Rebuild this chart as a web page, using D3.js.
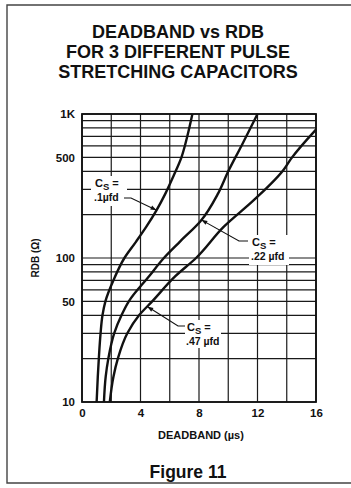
<!DOCTYPE html>
<html>
<head>
<meta charset="utf-8">
<script src="https://cdn.jsdelivr.net/npm/d3@7"></script>
<style>
  html, body { margin: 0; padding: 0; background: #fff; }
  svg { display: block; font-family: "Liberation Sans", Arial, Helvetica, sans-serif; }
</style>
</head>
<body>
<svg id="chart" width="351" height="488"></svg>
<script>
// ---------- DATA ----------
const titleLines = ["DEADBAND vs RDB", "FOR 3 DIFFERENT PULSE", "STRETCHING CAPACITORS"];
const xTicks = [0, 4, 8, 12, 16];
const xGrid = [0, 2, 4, 6, 8, 10, 12, 14, 16];
const yTickValues = [10, 50, 100, 500, 1000];
const yTickLabels = ["10", "50", "100", "500", "1K"];
const yGrid = [10, 20, 30, 40, 50, 60, 70, 80, 90, 100, 200, 300, 400, 500, 600, 700, 800, 900, 1000];
const xLabel = "DEADBAND (\u00B5s)";
const yLabel = "RDB (\u03A9)";
const figureLabel = "Figure 11";

// Cs = .1 µfd
const rdb01 = [10, 15, 20, 30, 40, 50, 70, 100, 130, 165, 215, 280, 370, 500, 700, 1000];
const db01  = [1.0, 1.08, 1.15, 1.27, 1.4, 1.6, 2.15, 2.9, 3.7, 4.4, 5.1, 5.7, 6.25, 6.8, 7.2, 7.55];
// Cs = .22 µfd
const rdb022 = [10, 15, 20, 30, 40, 50, 75, 100, 130, 180, 280, 400, 600, 1000];
const db022  = [1.5, 1.62, 1.8, 2.2, 2.7, 3.2, 4.6, 5.6, 6.7, 8.1, 9.3, 10.0, 10.9, 12.0];
// Cs = .47 µfd
const rdb047 = [10, 15, 20, 30, 40, 50, 75, 100, 165, 255, 412, 490, 780];
const db047  = [1.9, 2.15, 2.45, 3.1, 3.9, 4.8, 6.4, 7.8, 9.7, 11.8, 13.8, 14.3, 16.0];

const seriesNames = [".1\u00B5fd", ".22 \u00B5fd", ".47 \u00B5fd"];
// arrow tip location on each curve (data space)
const arrowR = [215, 184, 46];

// ---------- DRAW ----------
const svg = d3.select("#chart");
const x = d3.scaleLinear().domain([0, 16]).range([82, 316]);
const y = d3.scaleLog().domain([10, 1000]).range([402, 114]);

// outer frame (left, top, bottom)
svg.append("path")
  .attr("d", "M352,5 H7 V483 H352")
  .attr("fill", "none").attr("stroke", "#444").attr("stroke-width", 1.4);

// title
svg.append("g").selectAll("text").data(titleLines).join("text")
  .attr("x", 178).attr("y", (d, i) => 38 + i * 20)
  .attr("text-anchor", "middle")
  .attr("font-size", 18).attr("font-weight", "bold").attr("fill", "#111")
  .text(d => d);

// grid
const grid = svg.append("g").attr("stroke", "#1a1a1a").attr("stroke-width", 1.2);
grid.selectAll("line.h").data(yGrid).join("line").attr("class", "h")
  .attr("x1", x(0)).attr("x2", x(16))
  .attr("y1", d => y(d)).attr("y2", d => y(d));
grid.selectAll("line.v").data(xGrid).join("line").attr("class", "v")
  .attr("x1", d => x(d)).attr("x2", d => x(d))
  .attr("y1", y(10)).attr("y2", y(1000));
svg.append("rect")
  .attr("x", x(0)).attr("y", y(1000))
  .attr("width", x(16) - x(0)).attr("height", y(10) - y(1000))
  .attr("fill", "none").attr("stroke", "#111").attr("stroke-width", 1.8);

// axes via d3 axis generators (lines hidden, labels styled)
const yAxis = d3.axisLeft(y).tickValues(yTickValues)
  .tickFormat((d, i) => yTickLabels[i]).tickSize(0).tickPadding(7);
const gy = svg.append("g").attr("transform", `translate(${x(0)},0)`).call(yAxis);
gy.select(".domain").remove();
gy.selectAll("text").attr("font-size", 11.5).attr("font-weight", "bold")
  .attr("fill", "#111").attr("font-family", "Liberation Sans, Arial, sans-serif");

const xAxis = d3.axisBottom(x).tickValues(xTicks).tickSize(0).tickPadding(7);
const gx = svg.append("g").attr("transform", `translate(0,${y(10)})`).call(xAxis);
gx.select(".domain").remove();
gx.selectAll("text").attr("font-size", 11.5).attr("font-weight", "bold")
  .attr("fill", "#111").attr("font-family", "Liberation Sans, Arial, sans-serif");

// axis titles
svg.append("text").attr("x", 201).attr("y", 439).attr("text-anchor", "middle")
  .attr("font-size", 11).attr("font-weight", "bold").attr("fill", "#111").text(xLabel);
svg.append("text").attr("transform", `translate(39,${(y(10) + y(1000)) / 2}) rotate(-90)`)
  .attr("text-anchor", "middle")
  .attr("font-size", 10).attr("font-weight", "bold").attr("fill", "#111").text(yLabel);
svg.append("text").attr("x", 188).attr("y", 478).attr("text-anchor", "middle")
  .attr("font-size", 17.5).attr("font-weight", "bold").attr("fill", "#111").text(figureLabel);

// annotation label boxes (white) drawn before curves? curves pass nearby; draw boxes first
const series = [
  { r: rdb01, d: db01 },
  { r: rdb022, d: db022 },
  { r: rdb047, d: db047 }
];

function interpD(s, R) {
  for (let i = 0; i < s.r.length - 1; i++) {
    if (R >= s.r[i] && R <= s.r[i + 1]) {
      const t = (Math.log(R) - Math.log(s.r[i])) / (Math.log(s.r[i + 1]) - Math.log(s.r[i]));
      return s.d[i] + t * (s.d[i + 1] - s.d[i]);
    }
  }
  return s.d[s.d.length - 1];
}

// label layout: [textX, line1 baseline, elbow dx side]
const labelLayout = [
  { tx: 95, ty: 187, path: (tipX, tipY) => `M124,198 H131 L${tipX},${tipY}` , bx: 91, by: 176, bw: 36, bh: 30 },
  { tx: 252, ty: 246, path: (tipX, tipY) => `M248,241 H239 L${tipX},${tipY}`, bx: 249, by: 235, bw: 40, bh: 30 },
  { tx: 187, ty: 331, path: (tipX, tipY) => `M185,326 H178 L${tipX},${tipY}`, bx: 185, by: 320, bw: 36, bh: 28 }
];

const ann = svg.append("g");
labelLayout.forEach((L, i) => {
  ann.append("rect").attr("x", L.bx).attr("y", L.by).attr("width", L.bw).attr("height", L.bh)
    .attr("fill", "#fff");
});

// curves
const line = d3.line().curve(d3.curveMonotoneY);
svg.append("g").selectAll("path").data(series).join("path")
  .attr("d", s => line(s.r.map((R, i) => [x(s.d[i]), y(R)])))
  .attr("fill", "none").attr("stroke", "#111").attr("stroke-width", 2.4)
  .attr("stroke-linejoin", "round");

// annotations
labelLayout.forEach((L, i) => {
  const s = series[i];
  const tipX = x(interpD(s, arrowR[i]));
  const tipY = y(arrowR[i]);
  const p = L.path(tipX, tipY);
  ann.append("path").attr("d", p).attr("fill", "none").attr("stroke", "#111").attr("stroke-width", 1.1);
  // arrowhead
  const pts = p.match(/-?\d+(\.\d+)?/g).map(Number);
  // elbow point = second-last point
  const ex = (i === 0) ? 131 : (i === 1 ? 239 : 178);
  const ey = (i === 0) ? 198 : (i === 1 ? 241 : 326);
  const ang = Math.atan2(tipY - ey, tipX - ex);
  const al = 6, aw = 2.2;
  const bx = tipX - al * Math.cos(ang), by = tipY - al * Math.sin(ang);
  ann.append("path")
    .attr("d", `M${tipX},${tipY} L${bx + aw * Math.sin(ang)},${by - aw * Math.cos(ang)} L${bx - aw * Math.sin(ang)},${by + aw * Math.cos(ang)} Z`)
    .attr("fill", "#111");
  const t = ann.append("text").attr("x", L.tx).attr("y", L.ty)
    .attr("font-size", 11).attr("font-weight", "bold").attr("fill", "#111");
  t.append("tspan").text("C");
  t.append("tspan").attr("dy", 3).attr("font-size", 9.5).text("S");
  t.append("tspan").attr("dy", -3).text(" =");
  ann.append("text").attr("x", L.tx - 1).attr("y", L.ty + 14)
    .attr("font-size", 10.5).attr("font-weight", "bold").attr("fill", "#111")
    .text(seriesNames[i]);
});
</script>
</body>
</html>
